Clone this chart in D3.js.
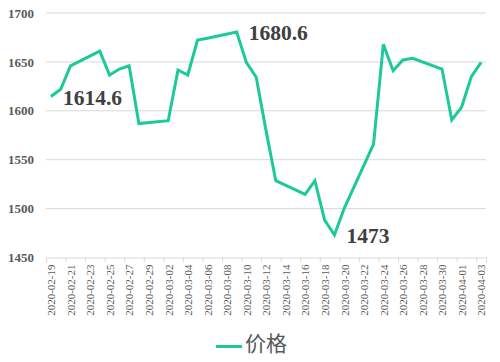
<!DOCTYPE html>
<html>
<head>
<meta charset="utf-8">
<script src="https://cdn.jsdelivr.net/npm/d3@7"></script>
<style>
  html, body { margin: 0; padding: 0; background: #fff; }
  svg { display: block; }
</style>
</head>
<body>
<svg id="chart" width="500" height="362"></svg>
<script>
const dates = ["2020-02-19","2020-02-20","2020-02-21","2020-02-24","2020-02-25","2020-02-26","2020-02-27","2020-02-28",
  "2020-03-02","2020-03-03","2020-03-04","2020-03-05","2020-03-06","2020-03-09","2020-03-10","2020-03-11","2020-03-12",
  "2020-03-13","2020-03-16","2020-03-17","2020-03-18","2020-03-19","2020-03-20","2020-03-23","2020-03-24","2020-03-25",
  "2020-03-26","2020-03-27","2020-03-30","2020-03-31","2020-04-01","2020-04-02","2020-04-03"];
const prices = [1614.6,1622,1646,1661,1636.6,1642.7,1646,1587,
  1589.9,1641.7,1636.6,1672.4,1674.1,1680.6,1649.2,1634.3,1580,
  1528.5,1514.6,1528.5,1488.3,1473,1500.3,1566,1668,1641,
  1652,1653.7,1642.7,1590.6,1603.6,1634.9,1649.6];
const yTicks = [1450,1500,1550,1600,1650,1700];
const annotations = [
  {date: "2020-02-19", label: "1614.6"},
  {date: "2020-03-09", label: "1680.6"},
  {date: "2020-03-19", label: "1473"}
];
const seriesName = "价格";
const firstLabelDate = "2020-02-19", lastLabelDate = "2020-04-03";

(function () {
const parse = d3.utcParse("%Y-%m-%d");
const fmt = d3.utcFormat("%Y-%m-%d");
const DAY = 864e5;
const data = dates.map((d, i) => ({date: parse(d), value: prices[i]}));

const svg = d3.select("#chart");
const mLeft = 46, mRight = 486, mTop = 13, mBottom = 257.5;
const start = parse(firstLabelDate), end = parse(lastLabelDate);

const x = d3.scaleUtc()
  .domain([new Date(+start - DAY/2), new Date(+end + DAY/2)])
  .range([mLeft, mRight]);
const y = d3.scaleLinear().domain([1450, 1700]).range([mBottom, mTop]);

const lineColor = "#1dc99a";
const axisText = "#595959";

// gridlines
svg.append("g").selectAll("line").data(yTicks.slice(1)).join("line")
  .attr("x1", mLeft).attr("x2", mRight)
  .attr("y1", d => y(d)).attr("y2", d => y(d))
  .attr("stroke", "#d9d9d9").attr("stroke-width", 1);

// y axis labels
const yAxis = svg.append("g").attr("transform", `translate(${mLeft},0)`)
  .call(d3.axisLeft(y).tickValues(yTicks).tickSize(0).tickPadding(12).tickFormat(d3.format("d")));
yAxis.select(".domain").remove();
yAxis.selectAll("text")
  .attr("fill", axisText)
  .style("font-family", "'Liberation Serif', 'Times New Roman', serif")
  .style("font-weight", "bold")
  .style("font-size", "13px");

// x axis: label dates every 2 days
const labelDates = d3.utcDay.range(start, new Date(+end + DAY), 1).filter((d, i) => i % 2 === 0);
const tickBounds = labelDates.map(d => new Date(+d - DAY/2)).concat([new Date(+end + DAY/2)]);

const xTicksG = svg.append("g").attr("transform", `translate(0,${mBottom})`)
  .call(d3.axisBottom(x).tickValues(tickBounds).tickSize(5).tickFormat(""));
xTicksG.select(".domain").attr("stroke", "#d9d9d9");
xTicksG.selectAll(".tick line").attr("stroke", "#d9d9d9");

const xAxis = svg.append("g").attr("transform", `translate(0,${mBottom})`)
  .call(d3.axisBottom(x).tickValues(labelDates).tickSize(0).tickFormat(fmt));
xAxis.select(".domain").remove();
xAxis.selectAll("text")
  .attr("fill", axisText)
  .style("font-family", "'Liberation Serif', 'Times New Roman', serif")
  .style("font-size", "11px")
  .attr("text-anchor", "end")
  .attr("dy", "0.35em")
  .attr("transform", "translate(0,7) rotate(-90)")
  .attr("x", 0).attr("y", 0);

// line
const line = d3.line().x(d => x(d.date)).y(d => y(d.value));
svg.append("path").datum(data)
  .attr("d", line)
  .attr("fill", "none")
  .attr("stroke", lineColor)
  .attr("stroke-width", 3)
  .attr("stroke-linejoin", "miter");

// annotations
svg.append("g").selectAll("text").data(annotations).join("text")
  .attr("x", d => x(parse(d.date)) + 12)
  .attr("y", d => y(prices[dates.indexOf(d.date)]) + 8)
  .attr("fill", "#404040")
  .style("font-family", "'Liberation Serif', 'Times New Roman', serif")
  .style("font-weight", "bold")
  .style("font-size", "21.5px")
  .text(d => d.label);

// legend
const lg = svg.append("g");
lg.append("line").attr("x1", 216).attr("x2", 242).attr("y1", 346.5).attr("y2", 346.5)
  .attr("stroke", lineColor).attr("stroke-width", 3);
lg.append("text").attr("x", 245).attr("y", 342)
  .attr("dominant-baseline", "central")
  .attr("fill", axisText)
  .style("font-family", "'Noto Sans CJK SC', sans-serif")
  .style("font-size", "21px")
  .text(seriesName);
})();
</script>
</body>
</html>
